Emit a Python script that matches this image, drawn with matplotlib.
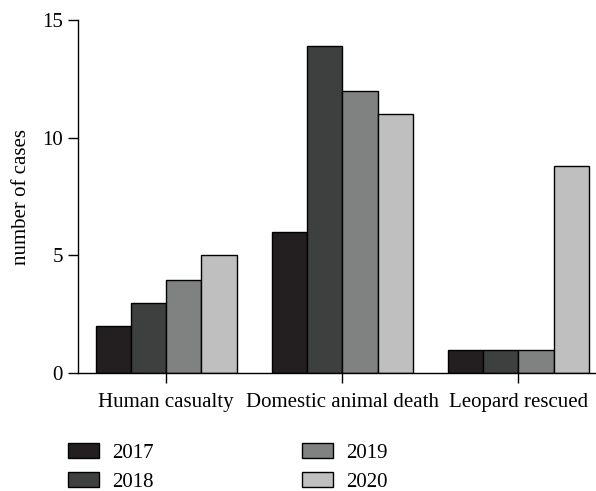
import matplotlib
matplotlib.use("Agg")
import matplotlib.pyplot as plt
import numpy as np
from matplotlib.patches import Patch

plt.rcParams['font.family'] = ['Liberation Serif', 'DejaVu Serif']

categories = ["Human casualty", "Domestic animal death", "Leopard rescued"]
years = ["2017", "2018", "2019", "2020"]
values = {
    "2017": [2, 6, 1],
    "2018": [3, 13.9, 1],
    "2019": [3.95, 12, 1],
    "2020": [5, 11, 8.8],
}
colors = ["#231f20", "#3e403f", "#808281", "#bfbfbf"]
yticks = [0, 5, 10, 15]

FS = 15
fig = plt.figure(figsize=(5.96, 4.91), dpi=100)
ax = fig.add_axes([0.131, 0.240, 0.869, 0.719])

x = np.arange(len(categories))
w = 0.2
for i, yr in enumerate(years):
    ax.bar(x + (i - 1.5) * w, values[yr], width=w, color=colors[i],
           edgecolor="black", linewidth=1.0, label=yr)

ax.set_xlim(-0.5, 2.44)
ax.set_ylim(0, 15)
ax.set_yticks(yticks)
ax.set_xticks(x)
ax.set_xticklabels(categories, fontsize=FS)
ax.tick_params(axis='y', labelsize=FS, direction='out', length=7, width=1, pad=4)
ax.tick_params(axis='x', direction='out', length=7, width=1, pad=7)
ax.set_ylabel("number of cases", fontsize=FS, labelpad=8)
for s in ["top", "right"]:
    ax.spines[s].set_visible(False)
for s in ["left", "bottom"]:
    ax.spines[s].set_linewidth(1.0)

handles = [Patch(facecolor=colors[i], edgecolor="black", linewidth=1.0) for i in range(4)]
fig.legend(handles, years, ncol=2, loc="upper left",
           bbox_to_anchor=(0.114, 0.097), frameon=False, fontsize=FS,
           handlelength=1.5, handleheight=0.72, handletextpad=0.62,
           columnspacing=7.1, labelspacing=0.45, borderaxespad=0, borderpad=0)

fig.savefig("out.png", dpi=100)
